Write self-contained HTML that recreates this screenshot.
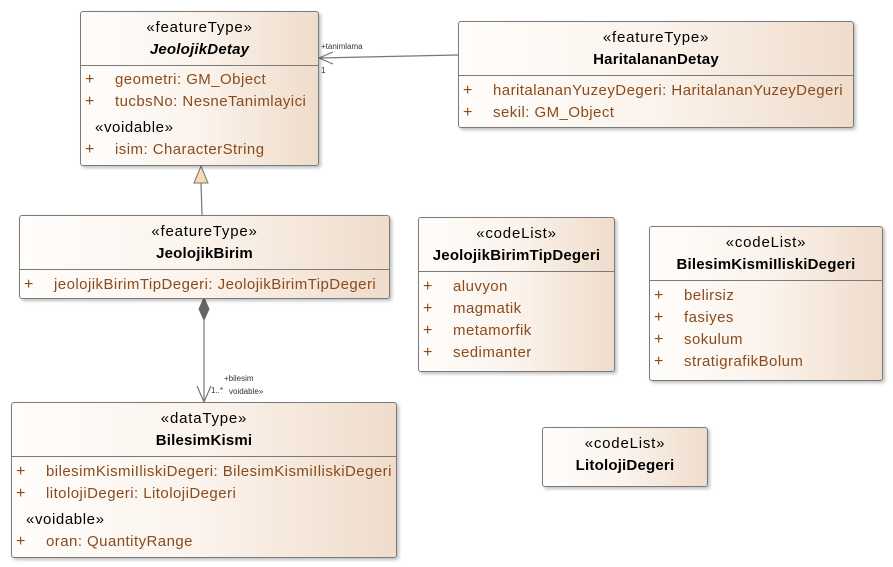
<!DOCTYPE html>
<html><head><meta charset="utf-8"><style>
body{margin:0;width:893px;height:567px;background:#fff;position:relative;font-family:"Liberation Sans",sans-serif;overflow:hidden}
.b{position:absolute;border:1px solid #7a7a7a;border-radius:3px;background:linear-gradient(to right,#fffdfb 0%,#fbf3ec 50%,#efdccb 100%);box-shadow:2px 2px 3px rgba(0,0,0,.25);box-sizing:border-box}
.hd{border-bottom:1px solid #7a7a7a;text-align:center;padding-top:5px;box-sizing:border-box;font-size:15px;color:#000}
.hd div{line-height:22px;letter-spacing:0.8px}
.hd div.nm{font-weight:bold;letter-spacing:0.2px}
.r{position:relative;height:22px;line-height:22px;font-size:15px;color:#8a4b1c;white-space:nowrap;letter-spacing:0.45px}
.r .p{position:absolute;left:4px;font-size:16px}
.r .t{position:absolute;left:34px}
.v{height:26px;line-height:30px;font-size:15px;color:#000;padding-left:14px;letter-spacing:0.6px}
.s{position:absolute;font-size:8px;color:#333;white-space:nowrap}
</style></head><body>
<svg width="893" height="567" style="position:absolute;left:0;top:0">
<line x1="458" y1="55" x2="319" y2="58" stroke="#777" stroke-width="1.2"/>
<polyline points="333,52 319,58 333,64" fill="none" stroke="#777" stroke-width="1.2"/>
<line x1="202" y1="215" x2="201" y2="183" stroke="#777" stroke-width="1.2"/>
<polygon points="201,166 194,183 208,183" fill="#f5dcb5" stroke="#777"/>
<polygon points="204,298 209,309 204,320 199,309" fill="#666" stroke="#666"/>
<line x1="204" y1="320" x2="204" y2="402" stroke="#777" stroke-width="1.2"/>
<polyline points="197,386 204,402 211,386" fill="none" stroke="#777" stroke-width="1.2"/>
</svg>
<div class="s" style="left:321px;top:42px">+tanimlama</div>
<div class="s" style="left:321px;top:66px">1</div>
<div class="s" style="left:224px;top:374px">+bilesim</div>
<div class="s" style="left:211px;top:386px">1..*</div>
<div class="s" style="left:229px;top:387px">voidable»</div>

<div class="b" style="left:80px;top:11px;width:239px;height:155px">
<div class="hd" style="height:54px"><div>«featureType»</div><div class="nm" style="font-style:italic">JeolojikDetay</div></div>
<div style="height:3px"></div>
<div class="r"><span class="p">+</span><span class="t">geometri: GM_Object</span></div>
<div class="r"><span class="p">+</span><span class="t">tucbsNo: NesneTanimlayici</span></div>
<div class="v">«voidable»</div>
<div class="r"><span class="p">+</span><span class="t">isim: CharacterString</span></div>
</div>

<div class="b" style="left:458px;top:21px;width:396px;height:107px">
<div class="hd" style="height:54px"><div>«featureType»</div><div class="nm">HaritalananDetay</div></div>
<div style="height:4px"></div>
<div class="r"><span class="p">+</span><span class="t">haritalananYuzeyDegeri: HaritalananYuzeyDegeri</span></div>
<div class="r"><span class="p">+</span><span class="t">sekil: GM_Object</span></div>
</div>

<div class="b" style="left:19px;top:215px;width:371px;height:84px">
<div class="hd" style="height:54px"><div>«featureType»</div><div class="nm">JeolojikBirim</div></div>
<div style="height:4px"></div>
<div class="r"><span class="p">+</span><span class="t">jeolojikBirimTipDegeri: JeolojikBirimTipDegeri</span></div>
</div>

<div class="b" style="left:418px;top:217px;width:197px;height:155px">
<div class="hd" style="height:54px"><div>«codeList»</div><div class="nm">JeolojikBirimTipDegeri</div></div>
<div style="height:4px"></div>
<div class="r"><span class="p">+</span><span class="t">aluvyon</span></div>
<div class="r"><span class="p">+</span><span class="t">magmatik</span></div>
<div class="r"><span class="p">+</span><span class="t">metamorfik</span></div>
<div class="r"><span class="p">+</span><span class="t">sedimanter</span></div>
</div>

<div class="b" style="left:649px;top:226px;width:234px;height:155px">
<div class="hd" style="height:54px"><div>«codeList»</div><div class="nm">BilesimKismiIliskiDegeri</div></div>
<div style="height:4px"></div>
<div class="r"><span class="p">+</span><span class="t">belirsiz</span></div>
<div class="r"><span class="p">+</span><span class="t">fasiyes</span></div>
<div class="r"><span class="p">+</span><span class="t">sokulum</span></div>
<div class="r"><span class="p">+</span><span class="t">stratigrafikBolum</span></div>
</div>

<div class="b" style="left:11px;top:402px;width:386px;height:156px">
<div class="hd" style="height:54px"><div>«dataType»</div><div class="nm">BilesimKismi</div></div>
<div style="height:4px"></div>
<div class="r"><span class="p">+</span><span class="t">bilesimKismiIliskiDegeri: BilesimKismiIliskiDegeri</span></div>
<div class="r"><span class="p">+</span><span class="t">litolojiDegeri: LitolojiDegeri</span></div>
<div class="v">«voidable»</div>
<div class="r"><span class="p">+</span><span class="t">oran: QuantityRange</span></div>
</div>

<div class="b" style="left:542px;top:427px;width:166px;height:60px">
<div class="hd" style="height:58px;border-bottom:none"><div>«codeList»</div><div class="nm">LitolojiDegeri</div></div>
</div>
</body></html>
